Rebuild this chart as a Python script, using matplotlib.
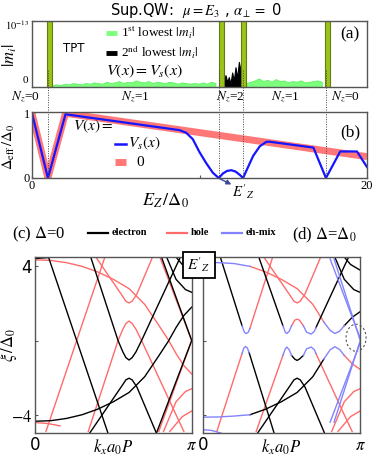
import numpy as np
import matplotlib.pyplot as plt
from matplotlib.lines import Line2D
from matplotlib.patches import Ellipse

plt.rcParams['mathtext.fontset'] = 'stix'
plt.rcParams['font.family'] = ['DejaVu Sans']

# ---------------- panel (a) : lowest |m_i| ----------------
bar_x = [1.05, 11.3, 12.65, 17.65]
vline_x = [0.95, 11.15, 12.6, 17.55]
green_x1 = [1.2, 1.45, 1.7, 1.95, 2.2, 2.45, 2.7, 2.95, 3.2, 3.45, 3.7, 3.95, 4.2, 4.45,
            4.7, 4.95, 5.2, 5.45, 5.7, 5.95, 6.2, 6.45, 6.7, 6.95, 7.2, 7.45, 7.7, 7.95,
            8.2, 8.45, 8.7, 8.95, 9.2, 9.45, 9.7, 9.95, 10.2, 10.45, 10.7, 10.95]
green_y1 = [0.03, 0.04, 0.03, 0.05, 0.04, 0.06, 0.05, 0.04, 0.06, 0.05, 0.07, 0.06, 0.05, 0.08,
            0.06, 0.07, 0.09, 0.06, 0.08, 0.07, 0.1, 0.08, 0.07, 0.09, 0.06, 0.08, 0.07, 0.06,
            0.08, 0.07, 0.05, 0.07, 0.06, 0.05, 0.06, 0.05, 0.07, 0.05, 0.08, 0.06]
green_x2 = [12.8, 13.05, 13.3, 13.55, 13.8, 14.05, 14.3, 14.55, 14.8, 15.05, 15.3, 15.55,
            15.8, 16.05, 16.3, 16.55, 16.8, 17.05, 17.3]
green_y2 = [0.06, 0.08, 0.1, 0.13, 0.09, 0.11, 0.08, 0.12, 0.09, 0.1, 0.07, 0.09,
            0.08, 0.1, 0.07, 0.08, 0.09, 0.1, 0.08]
black_x = [11.35, 11.45, 11.55, 11.65, 11.75, 11.85, 11.95, 12.05, 12.15, 12.25, 12.35, 12.45, 12.5]
black_y = [0.12, 0.06, 0.18, 0.08, 0.15, 0.05, 0.22, 0.1, 0.3, 0.14, 0.38, 0.25, 0.06]

# ---------------- panel (b) : effective gap ----------------
ez_free = [0.0, 0.95, 2.0, 20.0]
gap_free = [1.0, 0.0, 1.0, 0.33]
ez_sl = [0.0, 0.95, 2.0, 8.8, 9.2, 9.6, 10.0, 10.4, 10.8, 11.15, 11.4, 11.65, 11.9, 12.15,
         12.4, 12.6, 12.9, 13.2, 13.6, 14.0, 14.2, 16.8, 17.55, 18.4, 19.4, 20.0]
gap_sl = [1.0, 0.0, 0.985, 0.74, 0.7, 0.6, 0.4, 0.23, 0.08, 0.0, 0.07, 0.11, 0.12, 0.1,
          0.05, 0.0, 0.17, 0.34, 0.49, 0.56, 0.56, 0.47, 0.0, 0.41, 0.41, 0.17]
nz_x = [25, 135, 230, 285, 345]
nz_lab = ['0', '1', '2', '1', '0']

# ---------------- panels (c),(d) : bands, k in units of pi ----------------
c_elec = [
    [(0.0, 4.42), (0.08, 4.47), (0.16, 4.6)],
    [(0.07, 4.9), (0.27, -0.1), (0.47, -5.1)],
    [(0.0, -4.35), (0.1, -4.32), (0.2, -4.2), (0.3, -4.0), (0.4, -3.7), (0.5, -3.3),
     (0.6, -2.8), (0.7, -1.95), (0.78, -0.95), (0.85, -0.05), (0.9, 0.7), (0.95, 1.35),
     (1.0, 1.8)],
    [(0.34, 4.9), (0.53, 0.0), (0.56, -0.6), (0.58, -0.92), (0.6, -1.05), (0.62, -0.92),
     (0.645, -0.6), (0.68, 0.0), (0.9, 4.0), (0.95, 4.9)],
    [(0.34, -5.1), (0.55, -2.5), (0.58, -2.12), (0.6, -2.03), (0.62, -2.12), (0.65, -2.5),
     (0.78, -5.1)],
    [(0.82, 4.9), (0.9, 3.3), (0.96, 2.75), (1.0, 2.6)],
    [(0.86, 4.9), (0.94, 4.1), (1.0, 3.8)],
    [(0.79, 4.9), (1.0, 0.0), (0.77, -5.1)],
]
c_hole = [
    [(0.0, -4.42), (0.08, -4.47), (0.16, -4.6)],
    [(0.07, -4.9), (0.27, 0.1), (0.47, 5.1)],
    [(0.0, 4.35), (0.1, 4.32), (0.2, 4.2), (0.3, 4.0), (0.4, 3.7), (0.5, 3.3),
     (0.6, 2.8), (0.7, 1.95), (0.78, 0.95), (0.85, 0.05), (0.9, -0.7), (0.95, -1.35),
     (1.0, -1.8)],
    [(0.34, -4.9), (0.53, 0.0), (0.56, 0.6), (0.58, 0.92), (0.6, 1.05), (0.62, 0.92),
     (0.645, 0.6), (0.68, 0.0), (0.9, -4.0), (0.95, -4.9)],
    [(0.34, 5.1), (0.55, 2.5), (0.58, 2.12), (0.6, 2.03), (0.62, 2.12), (0.65, 2.5),
     (0.78, 5.1)],
    [(0.82, -4.9), (0.9, -3.3), (0.96, -2.75), (1.0, -2.6)],
    [(0.86, -4.9), (0.94, -4.1), (1.0, -3.8)],
    [(0.79, -4.9), (1.0, 0.0), (0.77, 5.1)],
]
d_elec = [
    [(0.097, 4.9), (0.25, 0.8)],
    [(0.295, -0.65), (0.458, -5.1)],
    [(0.34, 4.9), (0.51, 0.8)],
    [(0.72, 0.7), (0.9, 4.0), (0.95, 4.9)],
    [(0.565, -0.8), (0.585, -1.0), (0.6, -1.07), (0.615, -1.0), (0.64, -0.8)],
    [(0.34, -5.1), (0.55, -2.5), (0.58, -2.12), (0.6, -2.03), (0.62, -2.12), (0.65, -2.5),
     (0.78, -5.1)],
    [(0.82, 4.9), (0.9, 3.3), (0.96, 2.75), (1.0, 2.6)],
    [(0.86, 4.9), (0.94, 4.1), (1.0, 3.8)],
    [(0.3, -4.0), (0.4, -3.7), (0.5, -3.3), (0.6, -2.8), (0.7, -1.95), (0.77, -1.0)],
    [(0.9, 0.8), (0.95, 1.25), (1.0, 1.55)],
]
d_hole = [
    [(0.3, 0.65), (0.46, 4.9)],
    [(0.09, -4.9), (0.25, -0.7)],
    [(0.565, 0.8), (0.585, 1.1), (0.6, 1.15), (0.615, 1.1), (0.64, 0.8)],
    [(0.51, -0.8), (0.34, -4.9)],
    [(0.72, -0.7), (0.9, -4.0), (0.95, -4.9)],
    [(0.3, 4.0), (0.4, 3.7), (0.5, 3.3), (0.6, 2.8), (0.7, 1.95), (0.77, 1.0)],
    [(0.34, 5.1), (0.55, 2.5), (0.58, 2.12), (0.6, 2.03), (0.62, 2.12), (0.65, 2.5),
     (0.78, 5.1)],
    [(0.82, -4.9), (0.9, -3.3), (0.96, -2.75), (1.0, -2.6)],
    [(0.86, -4.9), (0.94, -4.1), (1.0, -3.8)],
    [(0.9, -0.8), (0.95, -1.25), (1.0, -1.55)],
]
d_mix = [
    [(0.0, 4.2), (0.1, 4.2), (0.2, 4.15), (0.3, 4.0)],
    [(0.0, -4.13), (0.1, -4.12), (0.2, -4.07), (0.3, -4.0)],
    [(0.0, -4.8), (0.06, -4.85), (0.12, -5.0)],
    [(0.25, 0.8), (0.265, 0.45), (0.277, 0.38), (0.29, 0.45), (0.3, 0.65)],
    [(0.25, -0.7), (0.262, -0.4), (0.272, -0.32), (0.284, -0.4), (0.295, -0.65)],
    [(0.51, 0.8), (0.525, 0.45), (0.535, 0.38), (0.55, 0.5), (0.565, 0.8)],
    [(0.64, 0.8), (0.66, 0.45), (0.69, 0.35), (0.71, 0.5), (0.72, 0.7)],
    [(0.51, -0.8), (0.525, -0.45), (0.535, -0.35), (0.55, -0.5), (0.565, -0.8)],
    [(0.64, -0.8), (0.66, -0.45), (0.69, -0.35), (0.71, -0.5), (0.72, -0.7)],
    [(0.77, 1.0), (0.81, 0.55), (0.84, 0.38), (0.87, 0.5), (0.9, 0.8)],
    [(0.77, -1.0), (0.81, -0.5), (0.84, -0.33), (0.87, -0.48), (0.9, -0.8)],
    [(0.81, 4.4), (1.0, 0.15)],
    [(0.835, 4.4), (1.0, 0.05)],
    [(0.81, -4.4), (1.0, -0.15)],
    [(0.835, -4.4), (1.0, -0.05)],
]

RED = '#ff6b6b'
BLUE = '#8383ff'
FRAME = '#555555'

fig = plt.figure(figsize=(3.74, 4.62), dpi=100)

def frame(ax):
    for s in ax.spines.values():
        s.set_color(FRAME)
        s.set_linewidth(1.0)
    ax.tick_params(direction='in', length=2.5, color=FRAME, labelsize=9)

def serif_ticks(ax):
    for lab in ax.get_xticklabels() + ax.get_yticklabels():
        lab.set_fontfamily('Liberation Serif')

# (a)
ax_a = fig.add_axes([32/374, 1-87/462, 335/374, 66/462])
ax_a.fill_between(green_x1, 0, green_y1, color='#7dff7d', lw=0.6, edgecolor='#66ee66')
ax_a.fill_between(green_x2, 0, green_y2, color='#7dff7d', lw=0.6, edgecolor='#66ee66')
ax_a.fill_between(black_x, 0, black_y, color='black', lw=0.8, edgecolor='black')
for xb in bar_x:
    ax_a.axvspan(xb-0.15, xb+0.15, color='#99c41a', ec='#667a10', lw=0.8)
ax_a.set_xlim(0, 20)
ax_a.set_ylim(0, 1)
ax_a.set_xticks([])
ax_a.set_yticks([0, 1])
ax_a.set_yticklabels([])
frame(ax_a)
ax_a.text(-0.008, 0.93, r'$10^{-13}$', fontsize=7.5, ha='right', va='center',
          transform=ax_a.transAxes)
ax_a.text(-0.012, 0.1, '0', fontsize=8, ha='right', va='center', transform=ax_a.transAxes,
          family='Liberation Serif')
ax_a.set_ylabel(r'$|m_i|$', fontsize=12)
ax_a.yaxis.set_label_coords(-0.04, 0.48)
ax_a.plot([4.42, 5.07], [0.82, 0.82], color='#7dff7d', lw=3.5, solid_capstyle='butt')
ax_a.text(5.3, 0.82, r'1$^{\rm st}$ lowest $|m_i|$', fontsize=9.5, va='center',
          family='Liberation Serif')
ax_a.plot([4.42, 5.07], [0.52, 0.52], color='black', lw=3.5, solid_capstyle='butt')
ax_a.text(5.3, 0.52, r'2$^{\rm nd}$ lowest $|m_i|$', fontsize=9.5, va='center',
          family='Liberation Serif')
ax_a.text(4.4, 0.24, r'$V(x)=V_s(x)$', fontsize=11.5, va='center')
ax_a.text(1.85, 0.59, 'TPT', fontsize=8.5, va='center')
ax_a.text(19.0, 0.8, '(a)', fontsize=12.5, family='Liberation Serif', ha='center', va='center')
fig.text(196/374, 1-10/462, r'Sup.QW:  $\mu=E_3$ , $\alpha_\perp=$ 0', fontsize=10.5,
         ha='center', va='center')

# (b)
ax_b = fig.add_axes([32/374, 1-178/462, 335/374, 66/462])
ax_b.plot(ez_free, gap_free, color='#ff7777', lw=5, solid_capstyle='butt')
ax_b.plot(ez_sl, gap_sl, color='#1515ff', lw=1.6)
ax_b.set_xlim(0, 20)
ax_b.set_ylim(0, 1.02)
ax_b.set_xticks([0, 10, 20])
ax_b.set_xticklabels(['0', '', '20'])
ax_b.set_yticks([0, 1])
frame(ax_b)
serif_ticks(ax_b)
ax_b.tick_params(pad=1.5)
ax_b.set_ylabel(r'$\Delta_{\rm eff}\,/\Delta_0$', fontsize=10.5)
ax_b.yaxis.set_label_coords(-0.045, 0.48)
ax_b.set_xlabel(r'$E_Z\,/\Delta_0$', fontsize=13)
ax_b.xaxis.set_label_coords(0.4, -0.2)
for xv in vline_x:
    ax_b.axvline(xv, ymin=0, ymax=(178-70)/66, color='#444444', lw=0.7, ls=(0, (1, 1.5)),
                 clip_on=False)
for xn, ln in zip(nz_x, nz_lab):
    fig.text(xn/374, 1-97/462, r'$N_z$=' + ln, fontsize=9.5, ha='center', va='center',
             family='Liberation Serif')
ax_b.text(2.45, 0.8, r'$V(x)=$', fontsize=11, va='center')
ax_b.plot([4.95, 5.6], [0.53, 0.53], color='#1515ff', lw=1.8)
ax_b.text(5.75, 0.53, r'$V_s(x)$', fontsize=11, va='center')
ax_b.plot([4.95, 5.6], [0.24, 0.24], color='#ff7777', lw=5, solid_capstyle='butt')
ax_b.text(6.25, 0.24, '0', fontsize=11, va='center', family='Liberation Serif')
ax_b.text(19.0, 0.7, '(b)', fontsize=12.5, family='Liberation Serif', ha='center', va='center')
ax_b.annotate('', xy=(11.9, -0.1), xytext=(11.2, -0.01), annotation_clip=False,
              arrowprops=dict(arrowstyle='-|>', color='#3a4a9a', lw=1.0,
                              mutation_scale=7, shrinkA=0, shrinkB=0))
ax_b.text(11.95, -0.07, r"$E'_Z$", fontsize=10.5, ha='left', va='top')

# (c),(d)
ax_c = fig.add_axes([35/374, 1-433.3/462, 156.7/374, 176.6/462])
ax_d = fig.add_axes([202.7/374, 1-433.3/462, 157.3/374, 176.6/462])
for ax in (ax_c, ax_d):
    ax.set_xlim(0, np.pi)
    ax.set_ylim(-5.0, 4.52)
    ax.set_xticks([0, np.pi])
    ax.set_xticklabels(['0', r'$\pi$'])
    ax.set_yticks([-4, 0, 4])
    frame(ax)
    ax.tick_params(labelsize=12, pad=2)
    ax.set_xlabel(r'$k_x a_0 P$', fontsize=12, va='center')
    ax.xaxis.set_label_coords(0.5, -0.08)
ax_c.set_yticklabels([r'$-4$', '', '4'])
ax_d.set_yticklabels([])
ax_c.set_ylabel(r'$\xi\,/\Delta_0$', fontsize=12, labelpad=-6)

def draw(ax, curves, color):
    for cv in curves:
        f = [p[0] * np.pi for p in cv]
        e = [p[1] for p in cv]
        ax.plot(f, e, color=color, lw=1.0)

draw(ax_c, c_hole, RED)
draw(ax_c, c_elec, 'black')
draw(ax_d, d_hole, RED)
draw(ax_d, d_elec, 'black')
draw(ax_d, d_mix, BLUE)
ax_d.add_patch(Ellipse((0.975*np.pi, 0.15), 0.4, 1.46, fill=False, ls=(0, (2, 2)),
                       ec='#555555', lw=0.8, clip_on=False))

fig.text(12/374, 1-234/462, r'(c) $\Delta$=0', fontsize=12, va='center',
         family='Liberation Serif')
fig.text(292/374, 1-235/462, r'(d) $\Delta$=$\Delta_0$', fontsize=12, va='center',
         family='Liberation Serif')
for x0, col, lab in [(88, 'black', 'electron'), (167, RED, 'hole'), (222, BLUE, 'eh-mix')]:
    fig.add_artist(Line2D([x0/374, (x0+20)/374], [1-233/462]*2, color=col, lw=1.6))
    fig.text((x0+24)/374, 1-233/462, lab, fontsize=7.5, fontweight='bold', va='center',
             family='Liberation Serif')
fig.text(199/374, 1-265/462, r"$E'_Z$", fontsize=11, ha='center', va='center',
         bbox=dict(boxstyle='square,pad=0.25', fc='white', ec='black', lw=1.3))

fig.savefig('out.png', dpi=100)
